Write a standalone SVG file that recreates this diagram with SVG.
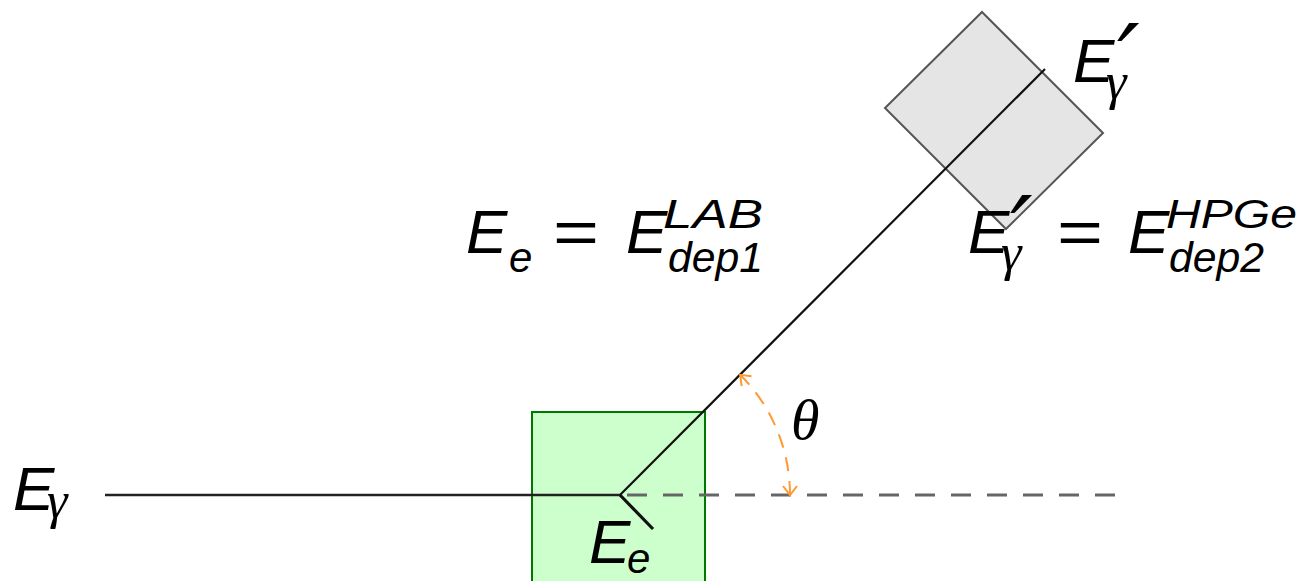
<svg xmlns="http://www.w3.org/2000/svg" width="1302" height="581" viewBox="0 0 1302 581">
<style>
.m{font-family:"Liberation Sans","DejaVu Sans",sans-serif;font-style:italic;fill:#000}
.b{font-size:62px}
.s{font-size:42px}
.g{font-family:"Liberation Serif","DejaVu Serif",serif;font-style:italic;font-size:52px;fill:#000}
.p{font-family:"DejaVu Sans",sans-serif;font-size:100px;fill:#000}
.eq{font-family:"Liberation Sans","DejaVu Sans",sans-serif;font-size:62px;fill:#000}
.th{font-family:"Liberation Serif","DejaVu Serif",serif;font-style:italic;font-size:58px;fill:#000}
</style>
<defs>
<marker id="oa" viewBox="-12 -8 14 16" markerWidth="14" markerHeight="16" refX="0" refY="0" orient="auto-start-reverse" markerUnits="userSpaceOnUse">
<path d="M-9,-7 L0,0 L-9,7" fill="none" stroke="#ff9933" stroke-width="2"/>
</marker>
</defs>
<g id="detector1">
<rect x="532" y="412" width="173" height="175" fill="#ccffcc" stroke="#007700" stroke-width="2"/>
</g>
<g id="detector2">
<polygon points="982,12 1103,133 1006,229 885,108" fill="#e5e5e5" stroke="#555" stroke-width="2"/>
</g>
<g id="connectors">
<line x1="105" y1="495" x2="620" y2="495" stroke="#222" stroke-width="2.5"/>
<line x1="627" y1="495" x2="1115" y2="495" stroke="#666" stroke-width="3" stroke-dasharray="20 16"/>
<line x1="620" y1="495" x2="1045" y2="69" stroke="#111" stroke-width="2.2"/>
<line x1="620" y1="495" x2="653" y2="529" stroke="#111" stroke-width="3.2"/>
<path d="M790,495 A170,170 0 0 0 740.2,374.8" fill="none" stroke="#ff9933" stroke-width="2" stroke-dasharray="14 10" marker-start="url(#oa)" marker-end="url(#oa)"/>
</g>
<g id="label-Egamma">
<text class="m b" x="13" y="510">E</text>
<text class="g" x="47" y="518">γ</text>
</g>
<g id="label-Ee-bottom">
<text class="m b" x="589" y="563">E</text>
<text class="m s" x="627" y="573">e</text>
</g>
<g id="label-Egamma-prime">
<text class="m b" x="1073" y="82">E</text>
<text class="p" x="1117" y="96" font-style="oblique">′</text>
<text class="g" x="1106" y="99">γ</text>
</g>
<g id="label-eq1">
<text class="m b" x="466" y="253">E</text>
<text class="m s" x="509" y="272">e</text>
<text class="eq" x="553" y="253" textLength="46" lengthAdjust="spacingAndGlyphs">=</text>
<text class="m b" x="626" y="253">E</text>
<text class="m" x="663" y="228" font-size="40" textLength="100" lengthAdjust="spacingAndGlyphs">LAB</text>
<text class="m s" x="668" y="272" textLength="95" lengthAdjust="spacingAndGlyphs">dep1</text>
</g>
<g id="label-eq2">
<text class="m b" x="968" y="253">E</text>
<text class="p" x="1010" y="268" font-style="oblique">′</text>
<text class="g" x="1001" y="270">γ</text>
<text class="eq" x="1057" y="253" textLength="46" lengthAdjust="spacingAndGlyphs">=</text>
<text class="m b" x="1128" y="253">E</text>
<text class="m" x="1166" y="228" font-size="40" textLength="131" lengthAdjust="spacingAndGlyphs">HPGe</text>
<text class="m s" x="1169" y="272" textLength="95" lengthAdjust="spacingAndGlyphs">dep2</text>
</g>
<g id="label-theta">
<text class="th" x="791" y="439">θ</text>
</g>
</svg>
